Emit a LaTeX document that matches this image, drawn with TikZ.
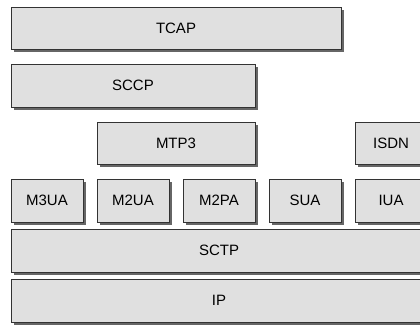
\documentclass[tikz,border=0pt]{standalone}
\usepackage{fontspec}
\setmainfont{Liberation Sans}
\usetikzlibrary{shadows}
\definecolor{boxfill}{HTML}{E0E0E0}
\definecolor{boxline}{HTML}{333333}
\definecolor{boxshade}{HTML}{666666}
\tikzset{
  layer/.style={draw=boxline, line width=1pt, fill=boxfill, rectangle,
    inner sep=0pt, anchor=north west, minimum height=42.5pt,
    font=\fontsize{15}{18}\selectfont,
    drop shadow={shadow xshift=2.5pt, shadow yshift=-2.5pt, fill=boxshade, opacity=1}},
}
\begin{document}
\begin{tikzpicture}[x=1pt, y=-1pt]
  \useasboundingbox (0,0) rectangle (420,325);
  \clip (0,0) rectangle (420,325);
  % upper SS7 layers
  \node[layer, minimum width=330pt] (tcap) at (10.5,6.5) {TCAP};
  \node[layer, minimum width=244pt] (sccp) at (10.5,64) {SCCP};
  \node[layer, minimum width=158pt] (mtp3) at (96.5,121.5) {MTP3};
  \node[layer, minimum width=72pt] (isdn) at (354.5,121.5) {ISDN};
  % SIGTRAN adaptation layers
  \node[layer, minimum width=72pt] (m3ua) at (10.5,179) {M3UA};
  \node[layer, minimum width=72pt] (m2ua) at (96.5,179) {M2UA};
  \node[layer, minimum width=72pt] (m2pa) at (182.5,179) {M2PA};
  \node[layer, minimum width=72pt] (sua) at (268.5,179) {SUA};
  \node[layer, minimum width=72pt] (iua) at (354.5,179) {IUA};
  % transport
  \node[layer, minimum width=416pt] (sctp) at (10.5,229) {SCTP};
  \node[layer, minimum width=416pt] (ip) at (10.5,279) {IP};
\end{tikzpicture}
\end{document}
